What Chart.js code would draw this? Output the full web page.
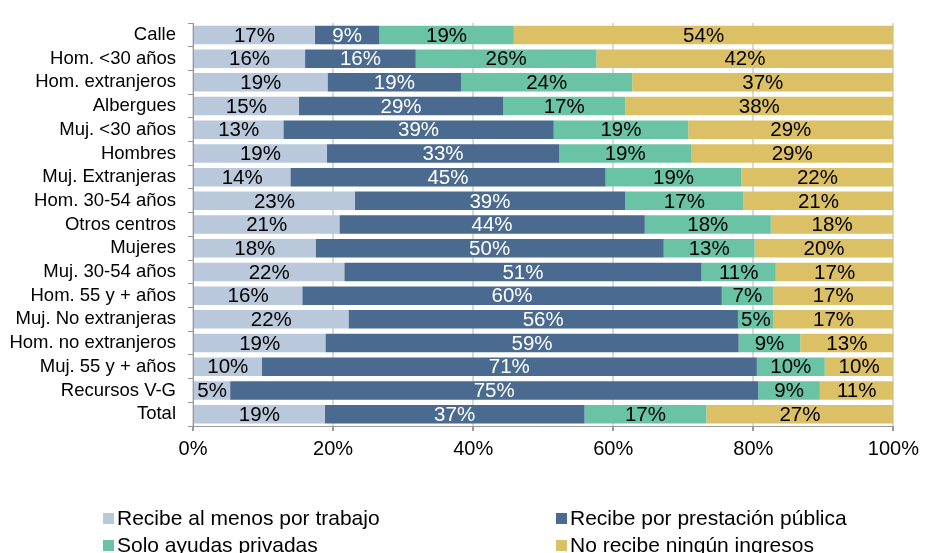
<!DOCTYPE html>
<html>
<head>
<meta charset="utf-8">
<script src="https://cdn.jsdelivr.net/npm/chart.js@4/dist/chart.umd.min.js"></script>
<style>
  body { margin: 0; background: #fff; }
  #wrap { position: relative; width: 925px; height: 553px; overflow: hidden; }
  #legend { position: absolute; left: 0; top: 505px; width: 925px; font-family: "Liberation Sans", Arial, sans-serif; font-size: 21px; color: #000; }
  .item { position: absolute; white-space: nowrap; line-height: 25px; }
  .box { display: inline-block; width: 11px; height: 11px; margin-right: 3px; vertical-align: 1px; }
</style>
</head>
<body>
<div id="wrap">
  <canvas id="chart" width="925" height="553"></canvas>
  <div id="legend"></div>
</div>
<script>
const categories = ["Calle", "Hom. <30 años", "Hom. extranjeros", "Albergues", "Muj. <30 años", "Hombres",
  "Muj. Extranjeras", "Hom. 30-54 años", "Otros centros", "Mujeres", "Muj. 30-54 años", "Hom. 55 y + años",
  "Muj. No extranjeras", "Hom. no extranjeros", "Muj. 55 y + años", "Recursos V-G", "Total"];
const seriesNames = ["Recibe al menos por trabajo", "Recibe por prestación pública", "Solo ayudas privadas", "No recibe ningún ingresos"];

const trabajo    = [17.4, 16.0, 19.2, 15.1, 12.9, 19.1, 13.9, 23.1, 20.9, 17.5, 21.6, 15.6, 22.2, 18.9,  9.8,  5.3, 18.8];
const prestacion = [ 9.2, 15.8, 19.1, 29.2, 38.6, 33.2, 45.0, 38.6, 43.6, 49.7, 51.0, 59.9, 55.6, 59.0, 70.7, 75.4, 37.1];
const privadas   = [19.2, 25.8, 24.4, 17.4, 19.2, 18.8, 19.4, 16.9, 18.0, 13.0, 10.6,  7.3,  5.1,  8.8,  9.7,  8.8, 17.4];
const ninguno    = [54.2, 42.4, 37.3, 38.3, 29.3, 28.9, 21.7, 21.4, 17.5, 19.8, 16.8, 17.2, 17.1, 13.3,  9.8, 10.5, 26.7];
const xTicks = [0, 20, 40, 60, 80, 100];

const colors = ["#b9c8db", "#4a6a8f", "#6bc3a5", "#dcc066"];
const labelColors = ["#000", "#fff", "#000", "#000"];
const font = "'Liberation Sans', Arial, sans-serif";

Chart.defaults.font.family = font;
Chart.defaults.color = "#000";

const segLabels = {
  id: "segLabels",
  afterDatasetsDraw(chart) {
    const ctx = chart.ctx;
    ctx.save();
    ctx.font = "20.5px " + font;
    ctx.textAlign = "center";
    ctx.textBaseline = "middle";
    chart.data.datasets.forEach((ds, i) => {
      chart.getDatasetMeta(i).data.forEach((bar, j) => {
        ctx.fillStyle = labelColors[i];
        ctx.fillText(Math.round(ds.data[j]) + "%", (bar.x + bar.base) / 2, bar.y + 1);
      });
    });
    ctx.restore();
  }
};

const series = [trabajo, prestacion, privadas, ninguno];

new Chart(document.getElementById("chart"), {
  type: "bar",
  data: {
    labels: categories,
    datasets: series.map((d, i) => ({
      label: seriesNames[i],
      data: d,
      backgroundColor: colors[i],
      barPercentage: 0.78,
      categoryPercentage: 1
    }))
  },
  options: {
    indexAxis: "y",
    responsive: false,
    animation: false,
    layout: { padding: { left: 8, right: 6, top: 11, bottom: 86 } },
    plugins: {
      legend: { display: false },
      tooltip: { enabled: false }
    },
    scales: {
      x: {
        stacked: true,
        min: 0,
        max: 100,
        afterBuildTicks: axis => { axis.ticks = xTicks.map(v => ({ value: v })); },
        ticks: { callback: v => v + "%", font: { size: 20 }, padding: 6 },
        grid: { color: "#d9d9d9", lineWidth: 2, tickColor: "#999", tickLength: 5 },
        border: { color: "#999", width: 1 }
      },
      y: {
        stacked: true,
        afterFit: axis => { axis.width = 185; },
        ticks: { font: { size: 18.5 }, padding: 12, autoSkip: false },
        grid: { offset: true, drawOnChartArea: false, color: "#999", tickLength: 5 },
        border: { color: "#999", width: 1 }
      }
    }
  },
  plugins: [segLabels]
});

// two-column legend like the original
const legend = document.getElementById("legend");
const pos = [[103, 0], [556, 0], [103, 27], [556, 27]];
seriesNames.forEach((name, i) => {
  const el = document.createElement("div");
  el.className = "item";
  el.style.left = pos[i][0] + "px";
  el.style.top = pos[i][1] + "px";
  el.innerHTML = '<span class="box" style="background:' + colors[i] + '"></span>' + name;
  legend.appendChild(el);
});
</script>
</body>
</html>
